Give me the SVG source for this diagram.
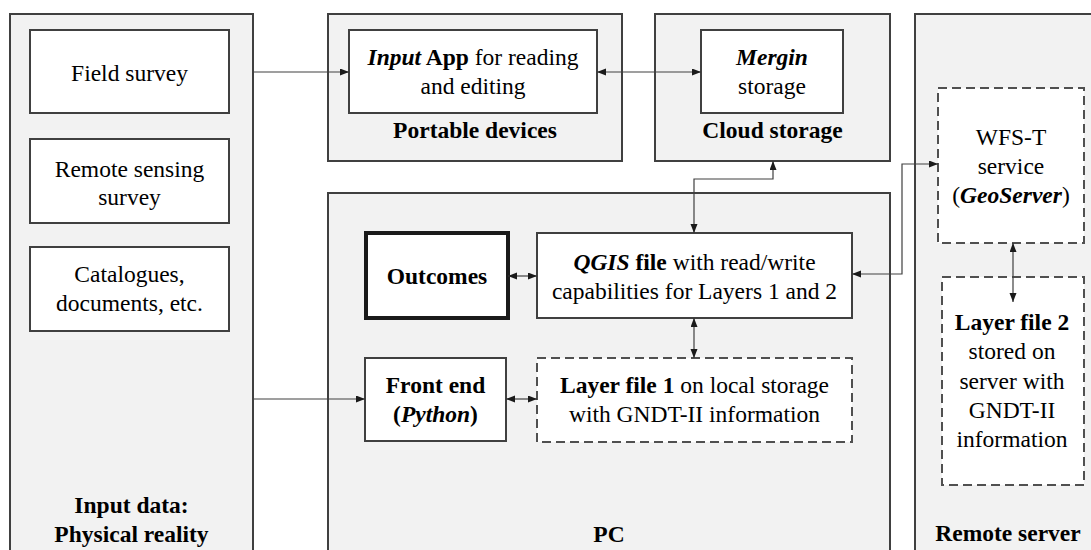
<svg xmlns="http://www.w3.org/2000/svg" width="1091" height="550" viewBox="0 0 1091 550">
<style>
.bg{fill:#ffffff}
.cont{fill:#f2f2f2;stroke:#404040;stroke-width:2}
.box{fill:#ffffff;stroke:#404040;stroke-width:2}
.thick{fill:#ffffff;stroke:#1a1a1a;stroke-width:4}
.dash{fill:#ffffff;stroke:#505050;stroke-width:2;stroke-dasharray:9 5}
.c{fill:none;stroke:#404040;stroke-width:1.2}
.t{font-family:'Liberation Serif',serif;font-size:23.5px;text-anchor:middle}
</style>
<defs>
<marker id="ah" markerUnits="userSpaceOnUse" markerWidth="10" markerHeight="8" refX="9" refY="3.5" orient="auto-start-reverse">
<path d="M0,0 L9,3.5 L0,7 z" fill="#1a1a1a"/>
</marker>
</defs>
<rect class="bg" x="0" y="0" width="1091" height="550"/>
<g id="input-data">
<rect class="cont" x="10" y="14" width="243" height="560"/>
<text class="t" font-weight="bold" x="131.5" y="513">Input data:</text>
<text class="t" font-weight="bold" x="131.5" y="542">Physical reality</text>
</g>
<g id="portable-devices">
<rect class="cont" x="328" y="14" width="294" height="147"/>
<text class="t" font-weight="bold" x="475" y="138">Portable devices</text>
</g>
<g id="cloud-storage">
<rect class="cont" x="655" y="14" width="235" height="147"/>
<text class="t" font-weight="bold" x="772.5" y="138">Cloud storage</text>
</g>
<g id="pc">
<rect class="cont" x="328" y="193" width="562" height="380"/>
<text class="t" font-weight="bold" x="609" y="542">PC</text>
</g>
<g id="remote-server">
<rect class="cont" x="915" y="14" width="190" height="560"/>
<text class="t" font-weight="bold" x="1008" y="541">Remote server</text>
</g>
<g id="field-survey">
<rect class="box" x="30" y="30" width="199" height="83"/>
<text class="t" x="129.5" y="81">Field survey</text>
</g>
<g id="remote-sensing">
<rect class="box" x="30" y="139" width="199" height="84"/>
<text class="t" x="129.5" y="176.5">Remote sensing</text>
<text class="t" x="129.5" y="205">survey</text>
</g>
<g id="catalogues">
<rect class="box" x="30" y="247" width="199" height="84"/>
<text class="t" x="129.5" y="282">Catalogues,</text>
<text class="t" x="129.5" y="311">documents, etc.</text>
</g>
<g id="input-app">
<rect class="box" x="349" y="30" width="248" height="83"/>
<text class="t" x="473" y="65"><tspan font-weight="bold" font-style="italic">Input</tspan><tspan font-weight="bold"> App</tspan> for reading</text>
<text class="t" x="473" y="94">and editing</text>
</g>
<g id="mergin">
<rect class="box" x="701" y="30" width="142" height="83"/>
<text class="t" font-weight="bold" font-style="italic" x="772" y="65">Mergin</text>
<text class="t" x="772" y="94">storage</text>
</g>
<g id="wfs-t">
<rect class="dash" x="938" y="88" width="146" height="155"/>
<text class="t" x="1011" y="145">WFS-T</text>
<text class="t" x="1011" y="174">service</text>
<text class="t" x="1011" y="203">(<tspan font-weight="bold" font-style="italic">GeoServer</tspan>)</text>
</g>
<g id="layer-file-2">
<rect class="dash" x="942" y="277" width="142" height="208"/>
<text class="t" font-weight="bold" x="1012" y="330">Layer file 2</text>
<text class="t" x="1012" y="359">stored on</text>
<text class="t" x="1012" y="388.5">server with</text>
<text class="t" x="1012" y="418">GNDT-II</text>
<text class="t" x="1012" y="447">information</text>
</g>
<g id="outcomes">
<rect class="thick" x="366" y="233" width="142" height="85"/>
<text class="t" font-weight="bold" x="437" y="284">Outcomes</text>
</g>
<g id="qgis">
<rect class="box" x="537" y="233" width="315" height="85"/>
<text class="t" x="694.5" y="270"><tspan font-weight="bold" font-style="italic">QGIS</tspan><tspan font-weight="bold"> file</tspan> with read/write</text>
<text class="t" x="694.5" y="298.5">capabilities for Layers 1 and 2</text>
</g>
<g id="front-end">
<rect class="box" x="365" y="358" width="141" height="83"/>
<text class="t" font-weight="bold" x="435.5" y="393">Front end</text>
<text class="t" font-weight="bold" x="435.5" y="422">(<tspan font-style="italic">Python</tspan>)</text>
</g>
<g id="layer-file-1">
<rect class="dash" x="537" y="358" width="315" height="84"/>
<text class="t" x="694.5" y="393"><tspan font-weight="bold">Layer file 1</tspan> on local storage</text>
<text class="t" x="694.5" y="422">with GNDT-II information</text>
</g>
<g id="connectors">
<path class="c" d="M253,72 H349" marker-end="url(#ah)"/>
<path class="c" d="M597,72 H701" marker-start="url(#ah)" marker-end="url(#ah)"/>
<path class="c" d="M773,161 V179 H694 V233" marker-start="url(#ah)" marker-end="url(#ah)"/>
<path class="c" d="M852,274 H902 V164 H938" marker-start="url(#ah)" marker-end="url(#ah)"/>
<path class="c" d="M1013,243 V302" marker-start="url(#ah)" marker-end="url(#ah)"/>
<path class="c" d="M508,276 H537" marker-start="url(#ah)" marker-end="url(#ah)"/>
<path class="c" d="M694,318 V358" marker-start="url(#ah)" marker-end="url(#ah)"/>
<path class="c" d="M253,399 H365" marker-end="url(#ah)"/>
<path class="c" d="M506,399 H537" marker-start="url(#ah)" marker-end="url(#ah)"/>
</g>
</svg>
